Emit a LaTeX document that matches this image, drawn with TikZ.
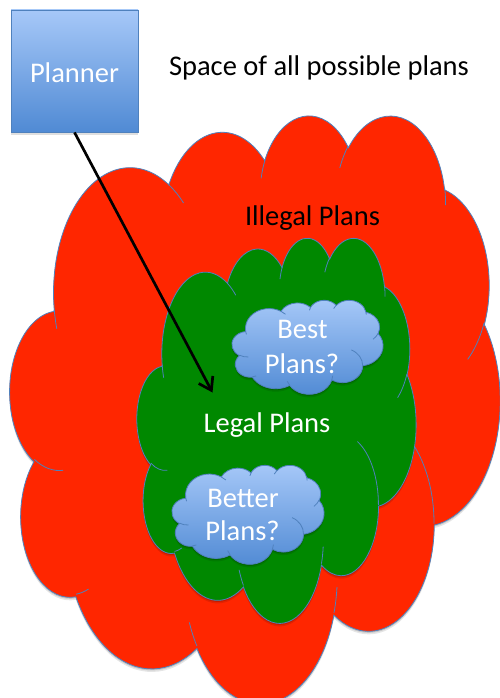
\documentclass[tikz,border=0pt]{standalone}
\usepackage{fontspec}
\setmainfont{Carlito}
\usetikzlibrary{arrows.meta,shadows}
\definecolor{pred}{RGB}{255,38,0}
\definecolor{pgreen}{RGB}{0,136,0}
\definecolor{pline}{RGB}{79,129,189}
\definecolor{pbluetop}{RGB}{166,200,248}
\definecolor{pbluebot}{RGB}{80,138,212}

% ---- PowerPoint cloud geometry (path units /1000, visual angles converted to parametric)
\newcommand\cldArc[4]{%
  \pgfmathsetmacro\cldTa{atan2((#1)*sin(#3),(#2)*cos(#3))}%
  \pgfmathsetmacro\cldTb{atan2((#1)*sin((#3)+(#4)),(#2)*cos((#3)+(#4)))}%
  \pgfmathsetmacro\cldTd{(\cldTb)-(\cldTa)-(#4)}%
  \pgfmathsetmacro\cldTb{(\cldTd>180)?((\cldTb)-360):((\cldTd<-180)?((\cldTb)+360):(\cldTb))}%
  \xdef\cldAcc{\cldAcc arc[start angle=\cldTa, end angle=\cldTb, x radius=#1, y radius=#2] }%
}
\newcommand\cldMove[2]{\xdef\cldAcc{\cldAcc (#1,#2) }}

% cloud: left, top, width, height, fill style
\newcommand\pcloud[5]{%
  \pgfmathsetmacro\cldsx{#3/43.2}\pgfmathsetmacro\cldsy{#4/43.2}%
  \begin{scope}[shift={(#1,#2)}, x=\cldsx pt, y=-\cldsy pt]
    \fill[black, opacity=.14, yshift=-1.5pt] \cldMain -- cycle;
    \fill[black, opacity=.10, yshift=-3pt] \cldMain -- cycle;
    \path[#5, draw=pline, line width=.8pt] \cldMain -- cycle;
    \draw[pline, line width=.8pt] \cldInner;
  \end{scope}}

\tikzset{
  lbl/.style={font=\fontsize{28.5}{34}\selectfont, inner sep=0pt, anchor=base},
  wlbl/.style={lbl, text=white},
  bluefill/.style={top color=pbluetop, bottom color=pbluebot},
  conn/.style={line width=2.7pt, -{Straight Barb[length=12pt, width=16pt]}}
}

\begin{document}
\gdef\cldAcc{}
\cldMove{3.9}{14.37}
\cldArc{6.753}{9.19}{-190.48748}{123.78053}
\cldArc{5.333}{7.267}{-144.10238}{89.94523}
\cldArc{4.365}{5.945}{-145.80792}{99.72302}
\cldArc{4.857}{6.595}{-130.98607}{117.24173}
\cldArc{5.333}{7.273}{-78.70888}{109.02692}
\cldArc{6.775}{9.22}{-46.26725}{130.269}
\cldArc{5.785}{7.867}{0.62502}{114.03333}
\cldArc{6.752}{9.215}{22.4516}{115.17255}
\cldArc{7.72}{10.543}{66.24263}{75.71102}
\cldArc{4.36}{5.918}{-274.94208}{146.73557}
\cldArc{4.345}{5.945}{-246.8285}{152.51885}
\global\let\cldMain\cldAcc
\gdef\cldAcc{}
\cldMove{4.693}{26.177}\cldArc{4.345}{5.945}{86.742}{26.4295}
\cldMove{6.928}{34.899}\cldArc{4.36}{5.918}{73.6105}{11.4475}
\cldMove{16.478}{39.09}\cldArc{6.752}{9.215}{137.6241}{14.0811}
\cldMove{28.827}{34.751}\cldArc{6.752}{9.215}{6.4533}{15.9984}
\cldMove{34.129}{22.954}\cldArc{5.785}{7.867}{-70.2924}{70.9174}
\cldMove{41.798}{15.354}\cldArc{5.333}{7.273}{30.318}{27.7515}
\cldMove{38.324}{5.426}\cldArc{4.857}{6.595}{-13.7443}{14.8589}
\cldMove{29.078}{3.952}\cldArc{4.857}{6.595}{-149.1815}{18.1954}
\cldMove{22.141}{4.72}\cldArc{4.365}{5.945}{-163.4943}{17.6864}
\cldMove{14.0}{5.192}\cldArc{6.753}{9.19}{-66.707}{12.3194}
\cldMove{4.127}{15.789}\cldArc{6.753}{9.19}{157.6544}{11.8582}
\global\let\cldInner\cldAcc
\begin{tikzpicture}[x=1pt,y=-1pt]
\useasboundingbox (0,0) rectangle (500,698);
\clip (0,0) rectangle (500,698);

\pcloud{10}{114}{490}{588}{fill=pred}
\pcloud{137}{237}{279}{385}{fill=pgreen}
\pcloud{232}{300}{151}{94}{bluefill}
\pcloud{172}{465}{152}{99}{bluefill}

\node[bluefill, draw=pline, line width=.8pt, minimum width=127pt, minimum height=122pt,
      inner sep=0pt, text height=24pt, text depth=0pt, text=white,
      font=\fontsize{28.5}{34}\selectfont,
      drop shadow={opacity=.25, shadow xshift=0pt, shadow yshift=-2.5pt}]
      (planner) at (74.5,71) {Planner};

\node[lbl] (space) at (319,76) {Space of all possible plans};
\node[lbl] (illegal) at (312.5,225) {Illegal Plans};
\node[wlbl] (legal) at (267,432) {Legal Plans};
\node[wlbl] (best1) at (302.5,338) {Best};
\node[wlbl] (best2) at (302,373) {Plans?};
\node[wlbl] (better1) at (243,507) {Better};
\node[wlbl] (better2) at (242.5,540) {Plans?};

\coordinate (tgt) at (212.5,392.5);
\draw[conn] (planner.south) -- (tgt);
\end{tikzpicture}
\end{document}
